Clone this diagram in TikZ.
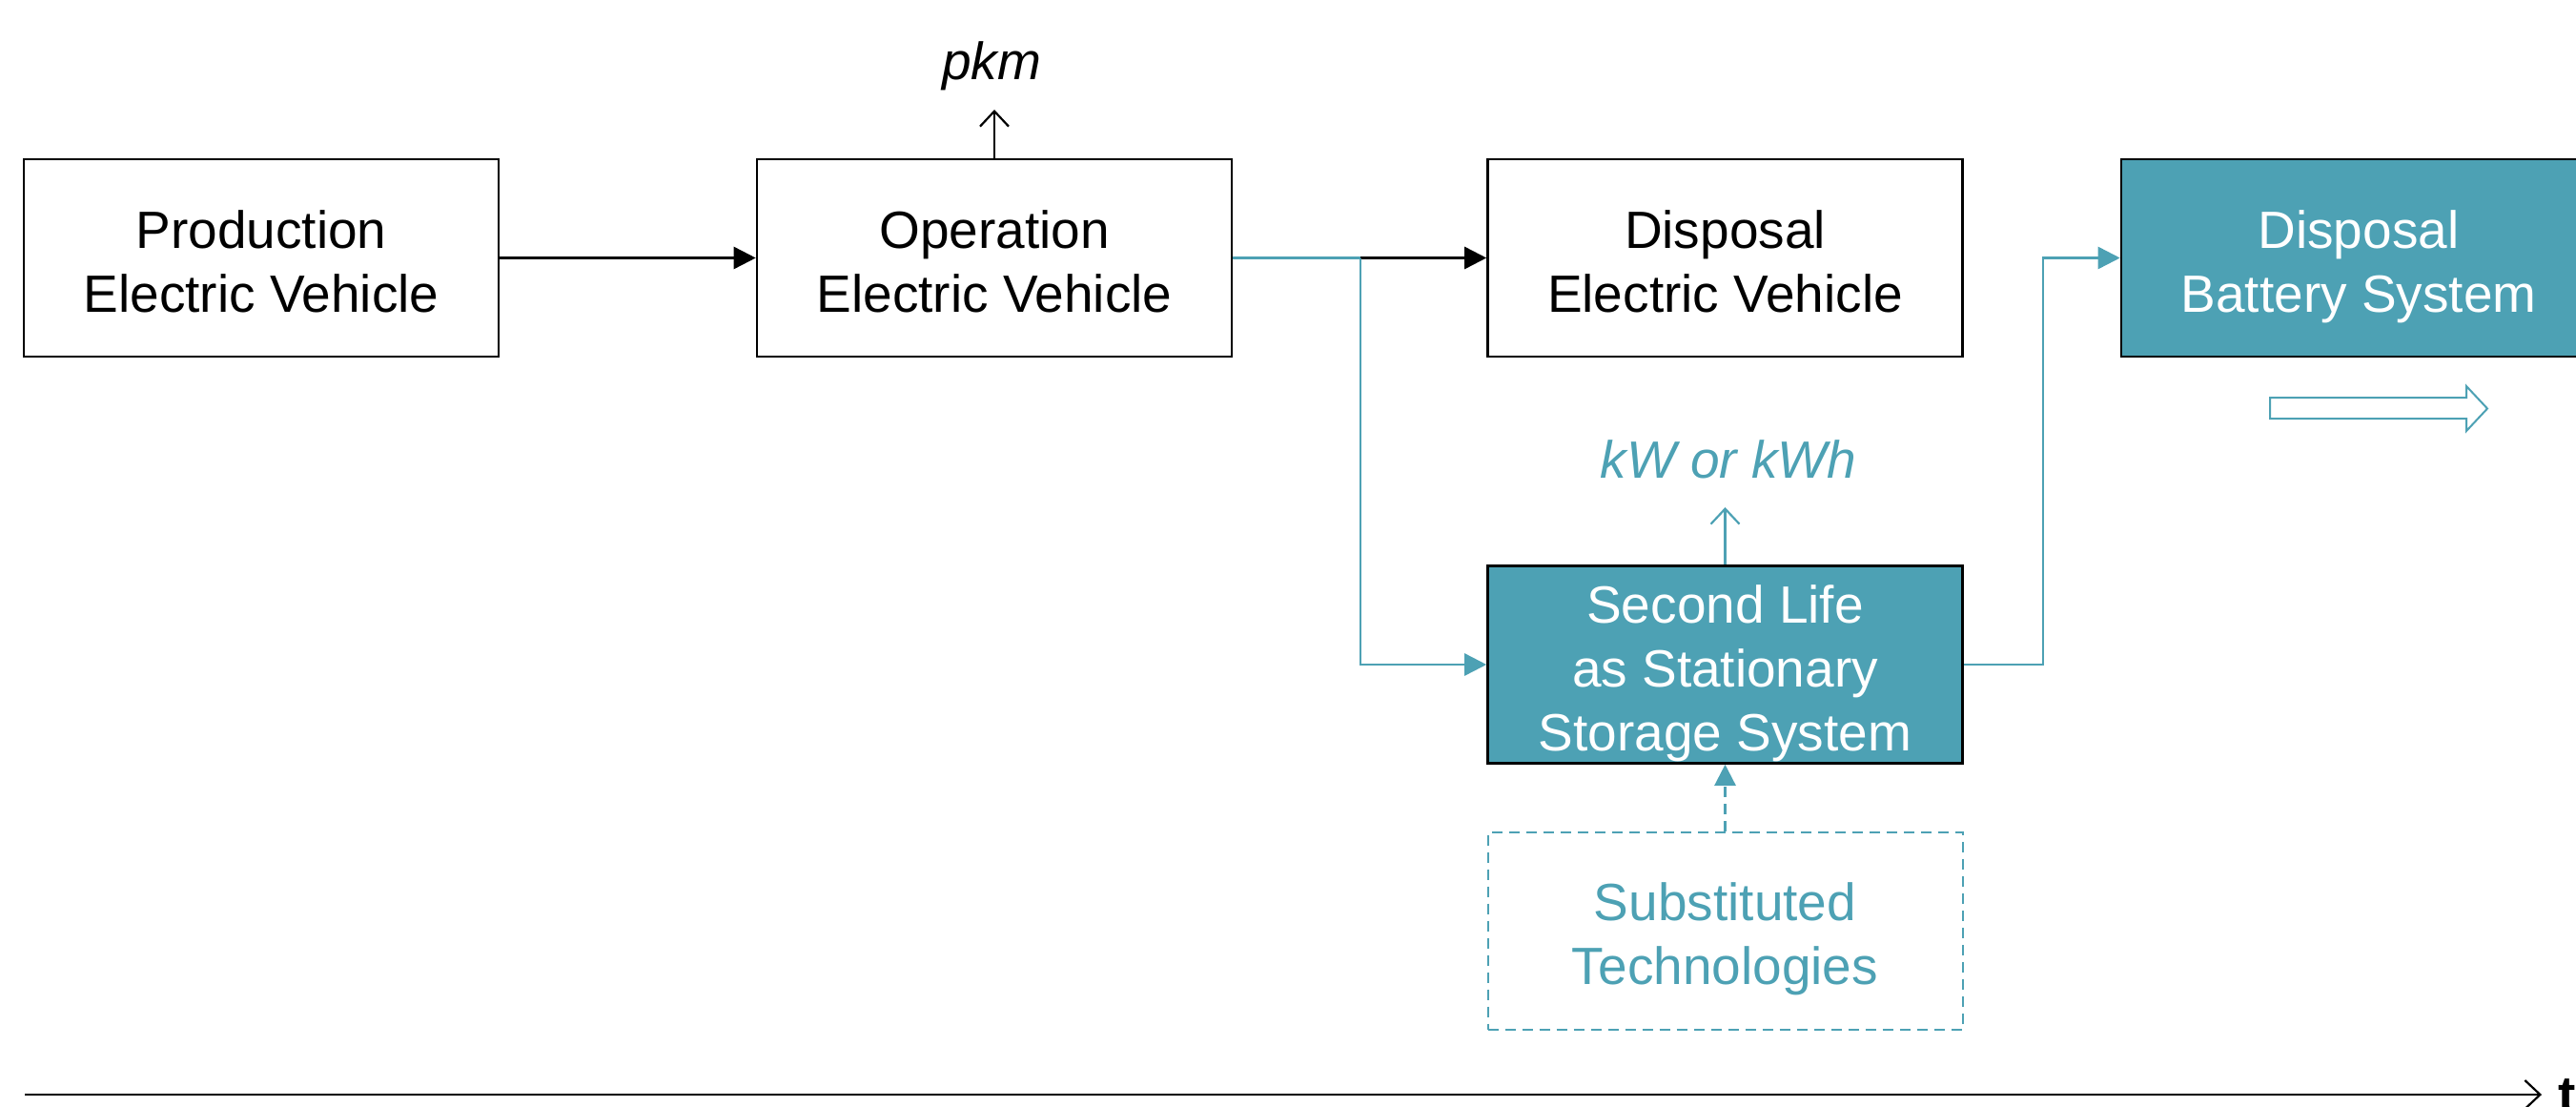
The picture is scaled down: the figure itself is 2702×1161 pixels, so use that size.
\documentclass[tikz,border=0pt]{standalone}
\usepackage{fontspec}
\setmainfont{Liberation Sans}
\usetikzlibrary{arrows.meta}
\definecolor{teal1}{RGB}{77,161,180}
\begin{document}
\begin{tikzpicture}[x=0.5pt,y=-0.5pt,
  box/.style={draw=black,line width=1.3pt,minimum width=249pt,minimum height=103.5pt,
    align=center,inner sep=0pt,font=\fontsize{27.5}{33.5}\selectfont,
    text height=62.7pt,text depth=6pt},
  three/.style={text height=96.2pt},
  tbox/.style={box,fill=teal1,text=white},
  dbox/.style={box,draw=teal1,dash pattern=on 5.5pt off 3.5pt,line width=1pt,text=teal1},
  lbl/.style={inner sep=0pt,font=\fontsize{27.5}{33.5}\selectfont\itshape},
  flow/.style={line width=1.3pt,-{Triangle[length=11.5pt,width=11.5pt]}},
  tflow/.style={flow,draw=teal1},
  openarr/.style={line width=1.1pt,-{Straight Barb[length=8pt,width=15pt,line width=1.1pt]}},
]
\useasboundingbox (0,0) rectangle (2702,1161);
\node[box]  (prod)   at (274,270.5)    {Production\\Electric Vehicle};
\node[box]  (oper)   at (1043,270.5)   {Operation\\Electric Vehicle};
\node[box]  (dispEV) at (1809.5,270.5) {Disposal\\Electric Vehicle};
\node[tbox] (dispB)  at (2474,270.5)   {Disposal\\Battery System};
\node[tbox,three] (second) at (1809.5,697)   {Second Life\\as Stationary\\Storage System};
\node[dbox] (subst)  at (1809.5,976)   {Substituted\\Technologies};
\node[lbl] (pkm) at (1040,69) {pkm};
\node[lbl,text=teal1] (kw) at (1813,482) {kW or kWh};
\coordinate (jn) at (1427,270.5);
\coordinate (pkmtip) at (1043,115);
\coordinate (kwtip) at (1809.5,532);
\draw[flow] (prod) -- (oper);
\draw[teal1,line width=1.3pt] (oper.east) -- (jn);
\draw[flow] (jn) -- (dispEV.west);
\draw[tflow] (jn) |- (second.west);
\draw[tflow] (second.east) -- ++(83,0) |- (dispB.west);
\draw[openarr] (oper.north) -- (pkmtip);
\draw[openarr,teal1] (second.north) -- (kwtip);
\draw[teal1,line width=1.2pt,dash pattern=on 5.5pt off 3.5pt,-{Triangle[length=11pt,width=11pt]}] (subst.north) -- (second.south);
% hollow arrow
\draw[teal1,line width=1pt,fill=white] (2381,417) -- (2587,417) -- (2587,405) -- (2609,428.5) -- (2587,452) -- (2587,439) -- (2381,439) -- cycle;
% timeline
\coordinate (t0) at (26,1148);
\coordinate (t1) at (2666,1148);
\node[inner sep=0pt,anchor=west,font=\fontsize{27.5}{33.5}\selectfont\bfseries] (tl) at (2683,1150) {t};
\draw[openarr] (t0) -- (t1);
\end{tikzpicture}
\end{document}
